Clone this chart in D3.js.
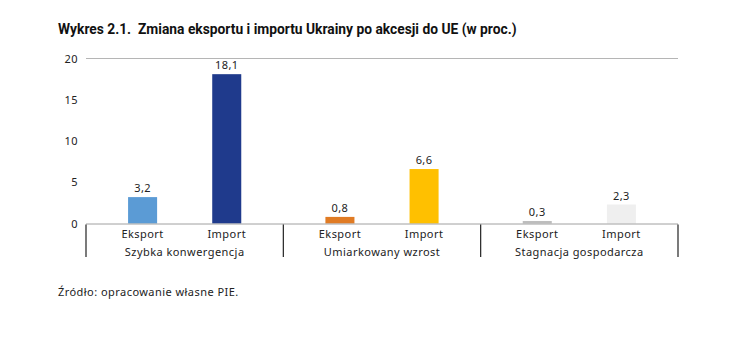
<!DOCTYPE html>
<html><head><meta charset="utf-8">
<script src="https://cdn.jsdelivr.net/npm/d3@7"></script>
<style>body{margin:0;background:#fff;} svg{display:block;font-family:"Noto Sans",sans-serif;} .bt{letter-spacing:0.45px;}</style>
</head><body><svg id="c" width="730" height="350"></svg>
<script>
const groups = ["Szybka konwergencja", "Umiarkowany wzrost", "Stagnacja gospodarcza"];
const subs = ["Eksport", "Import"];
const exportVals = [3.2, 0.8, 0.3];
const importVals = [18.1, 6.6, 2.3];
const exportLabels = ["3,2", "0,8", "0,3"];
const importLabels = ["18,1", "6,6", "2,3"];
const yTicks = [0, 5, 10, 15, 20];
const exportColors = ["#5b9bd5", "#e07b24", "#bdbdbd"];
const importColors = ["#1f3a8c", "#ffc000", "#efefef"];

const svg = d3.select("#c");
const L = 86, R = 678, T = 58.5, B = 223.5;
const x0 = d3.scaleBand().domain(groups).range([L, R]);
const x1 = d3.scaleBand().domain(subs).range([0, x0.bandwidth()]).paddingInner(0.655).paddingOuter(0.5);
const y = d3.scaleLinear().domain([0, 20]).range([B, T]);

svg.append("text").attr("x", 58).attr("y", 34).attr("font-size", 13.8).attr("font-weight", "bold").attr("fill", "#111")
  .attr("font-family", "Roboto, sans-serif")
  .text("Wykres 2.1.\u00a0 Zmiana eksportu i importu Ukrainy po akcesji do UE (w proc.)");

// top gridline
svg.append("line").attr("x1", L).attr("x2", R).attr("y1", y(20)).attr("y2", y(20)).attr("stroke", "#b5b5b5").attr("stroke-width", 1);

// y tick labels
svg.selectAll(".yt").data(yTicks).enter().append("text").attr("class", "bt")
  .attr("x", 78).attr("y", d => y(d) + 4).attr("text-anchor", "end").attr("font-size", 11).attr("fill", "#222").text(d => d);

const data = [];
groups.forEach((g, i) => {
  data.push({g, s: "Eksport", v: exportVals[i], lab: exportLabels[i], c: exportColors[i]});
  data.push({g, s: "Import", v: importVals[i], lab: importLabels[i], c: importColors[i]});
});

svg.selectAll(".bar").data(data).enter().append("rect")
  .attr("x", d => x0(d.g) + x1(d.s)).attr("width", x1.bandwidth())
  .attr("y", d => y(d.v)).attr("height", d => y(0) - y(d.v)).attr("fill", d => d.c);

svg.selectAll(".vl").data(data).enter().append("text").attr("class", "bt")
  .attr("x", d => x0(d.g) + x1(d.s) + x1.bandwidth() / 2).attr("y", d => y(d.v) - 5)
  .attr("text-anchor", "middle").attr("font-size", 11).attr("fill", "#222").text(d => d.lab);

// zero axis
svg.append("line").attr("x1", L).attr("x2", R).attr("y1", y(0) + 0.5).attr("y2", y(0) + 0.5).attr("stroke", "#a0a0a0").attr("stroke-width", 1);

// separators
const seps = groups.map(g => x0(g)).concat([R]);
svg.selectAll(".sep").data(seps).enter().append("line")
  .attr("x1", d => d).attr("x2", d => d).attr("y1", y(0) + 1).attr("y2", 257).attr("stroke", "#222").attr("stroke-width", 1.2);

// sub labels
svg.selectAll(".sl").data(data).enter().append("text").attr("class", "bt")
  .attr("x", d => x0(d.g) + x1(d.s) + x1.bandwidth() / 2).attr("y", 238)
  .attr("text-anchor", "middle").attr("font-size", 11).attr("fill", "#222").text(d => d.s);

svg.selectAll(".gl").data(groups).enter().append("text").attr("class", "bt")
  .attr("x", d => x0(d) + x0.bandwidth() / 2).attr("y", 256)
  .attr("text-anchor", "middle").attr("font-size", 11).attr("fill", "#222").text(d => d);

svg.append("text").attr("class", "bt").attr("x", 58).attr("y", 296).attr("font-size", 11).attr("fill", "#222").text("Źródło: opracowanie własne PIE.");
</script></body></html>
